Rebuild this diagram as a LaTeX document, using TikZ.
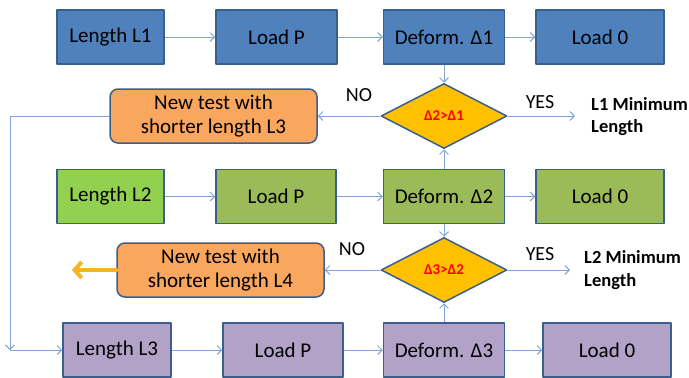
\documentclass[tikz,border=0pt]{standalone}
\usepackage{fontspec}
\setmainfont{Carlito}
\usetikzlibrary{shapes.geometric,arrows.meta}
\definecolor{edge}{HTML}{3A5F8F}
\definecolor{linkblue}{HTML}{7EA3D4}
\definecolor{rowblue}{HTML}{4F81BD}
\definecolor{rowlime}{HTML}{92D050}
\definecolor{rowgreen}{HTML}{9BBB59}
\definecolor{rowpurple}{HTML}{B3A2C7}
\definecolor{boxorange}{HTML}{F9A65E}
\definecolor{boxgold}{HTML}{FFC000}
\definecolor{outorange}{HTML}{F7B324}
\begin{document}
\begin{tikzpicture}[x=1pt,y=-1pt,line join=round,>={Straight Barb[length=4.5pt,width=9pt]},
		box/.style={draw=edge,line width=1.5pt,minimum height=54pt,inner sep=0pt,font=\fontsize{21}{24.5}\selectfont},
		newbox/.style={box,rounded corners=8pt,fill=boxorange,minimum width=207pt,align=center},
		test/.style={diamond,draw=edge,line width=1.5pt,fill=boxgold,minimum width=126pt,minimum height=65pt,inner sep=0pt,text=red,font=\bfseries\fontsize{15}{18}\selectfont},
		link/.style={->,draw=linkblue,line width=.9pt},
		lbl/.style={inner sep=0pt,font=\fontsize{20}{22}\selectfont},
		minlbl/.style={lbl,anchor=west,align=left,font=\bfseries\fontsize{18.5}{22.5}\selectfont}]
	\useasboundingbox (0,0) rectangle (689,378);
	\foreach \n/\x/\y/\w/\c/\t in {len1/110.5/37/107/rowblue/Length L1,load1/276.5/37/121/rowblue/Load P,def1/444/37/121/rowblue/Deform. Δ1,zero1/600/37/128/rowblue/Load 0,
		len2/110.5/196.5/107/rowlime/Length L2,load2/276/196.5/120/rowgreen/Load P,def2/444/196.5/121/rowgreen/Deform. Δ2,zero2/600/196.5/128/rowgreen/Load 0,
		len3/117/350/108/rowpurple/Length L3,load3/283/350/120/rowpurple/Load P,def3/444/350/121/rowpurple/Deform. Δ3,zero3/607/350/128/rowpurple/Load 0}
		\node[box,fill=\c,minimum width=\w pt] (\n) at (\x,\y) {\t};
	\foreach \r in {1,2,3} {
		\draw[link] (len\r) -- (load\r);
		\draw[link] (load\r) -- (def\r);
		\draw[link] (def\r) -- (zero\r);
	}
	\node[test] (cmp1) at (444,116) {Δ2>Δ1};
	\node[test] (cmp2) at (444,270) {Δ3>Δ2};
	\node[newbox] (new3) at (213.5,116) {New test with\\shorter length L3};
	\node[newbox] (new4) at (220.5,270) {New test with\\shorter length L4};
	\draw[link] (def1) -- (cmp1);
	\draw[link] (def2) -- (cmp1);
	\draw[link] (def2) -- (cmp2);
	\draw[link] (def3) -- (cmp2);
	\draw[link] (cmp1) -- (new3);
	\draw[link] (cmp2) -- (new4);
	\node[lbl] (no1) at (359,95) {NO};
	\node[lbl] (no2) at (352,249) {NO};
	\node[lbl] (yes1) at (540,102) {YES};
	\node[lbl] (yes2) at (540,254) {YES};
	\node[minlbl] (min1) at (591,116.5) {L1 Minimum\\Length};
	\node[minlbl] (min2) at (584,270) {L2 Minimum\\Length};
	\coordinate (end1) at (575,116);
	\coordinate (end2) at (570,270);
	\draw[link] (cmp1) -- (end1);
	\draw[link] (cmp2) -- (end2);
	\coordinate (turn) at (10,350);
	\draw[link] (new3) -| (turn);
	\draw[link] (turn) -- (len3);
	\coordinate (out4) at (72,270);
	\draw[->,draw=outorange,line width=4pt,line cap=round,>={Straight Barb[length=7pt,width=16pt]}] (new4) -- (out4);
\end{tikzpicture}
\end{document}
